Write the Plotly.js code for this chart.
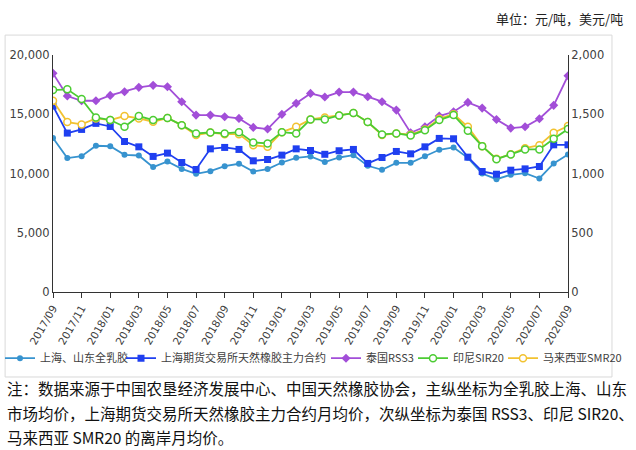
<!DOCTYPE html>
<html><head><meta charset="utf-8">
<script src="https://cdn.plot.ly/plotly-3.0.1.min.js"></script>
<style>html,body{margin:0;padding:0;background:#fff;}#chart{width:636px;height:450px;}</style>
</head><body><div id="chart"></div>
<script>
const months = ["2017/09","2017/10","2017/11","2017/12","2018/01","2018/02","2018/03","2018/04","2018/05","2018/06","2018/07","2018/08","2018/09","2018/10","2018/11","2018/12","2019/01","2019/02","2019/03","2019/04","2019/05","2019/06","2019/07","2019/08","2019/09","2019/10","2019/11","2019/12","2020/01","2020/02","2020/03","2020/04","2020/05","2020/06","2020/07","2020/08","2020/09"];
const tickLabels = months.filter((m, i) => i % 2 === 0);
const shandongLatex = [13000,11300,11460,12340,12300,11580,11520,10540,11010,10390,9970,10200,10620,10820,10170,10370,10930,11320,11440,10960,11350,11550,10650,10310,10900,10900,11460,12000,12200,11320,10000,9520,9890,10030,9580,10850,11610];
const shfeMain = [15690,13410,13720,14230,13970,12700,12250,11440,11720,10930,10340,12080,12200,12030,11070,11180,11550,12080,11940,11620,11920,12030,10850,11350,11860,11660,12250,12960,12930,11380,10170,9940,10280,10390,10590,12420,12420];
const thaiRSS3 = [1845,1654,1614,1614,1659,1690,1727,1744,1732,1606,1493,1493,1479,1465,1389,1375,1499,1592,1676,1646,1687,1687,1648,1606,1535,1344,1394,1485,1521,1600,1552,1456,1383,1394,1462,1575,1825];
const indoSIR20 = [1704,1710,1628,1473,1451,1394,1485,1451,1468,1408,1338,1346,1338,1349,1262,1254,1349,1338,1456,1456,1490,1510,1434,1330,1338,1321,1366,1451,1493,1361,1231,1121,1161,1203,1203,1293,1375];
const malaySMR20 = [1614,1434,1414,1465,1451,1485,1465,1437,1468,1408,1324,1346,1332,1332,1239,1225,1349,1394,1456,1473,1490,1510,1434,1324,1338,1327,1372,1462,1501,1394,1231,1124,1163,1214,1239,1344,1400];
const names = ["上海、山东全乳胶","上海期货交易所天然橡胶主力合约","泰国RSS3","印尼SIR20","马来西亚SMR20"];

const cjk = '"Noto Sans CJK SC", "Noto Sans", sans-serif';
function tr(y, name, color, symbol, size, axis, open, leg) {
  return {x: months, y: y, name: name, type: 'scatter', mode: 'lines+markers', yaxis: axis, legend: leg,
    line: {color: color, width: 1.8},
    marker: {color: open ? '#ffffff' : color, symbol: symbol, size: size, line: {color: color, width: open ? 1.5 : 0}}};
}
const data = [
  tr(shandongLatex, names[0], '#3793cf', 'circle', 6, 'y', false, 'legend'),
  tr(shfeMain, names[1], '#1f3ff0', 'square', 7, 'y', false, 'legend2'),
  tr(thaiRSS3, names[2], '#a24ed8', 'diamond', 7, 'y2', false, 'legend3'),
  tr(malaySMR20, names[4], '#f2c230', 'circle', 7, 'y2', true, 'legend5'),
  tr(indoSIR20, names[3], '#4ccc33', 'circle', 7, 'y2', true, 'legend4')
];
function leg(xpx) {
  return {orientation: 'h', xref: 'container', x: xpx / 636, xanchor: 'left', yref: 'container', y: 0.204, yanchor: 'middle',
    bgcolor: 'rgba(0,0,0,0)', font: {family: cjk, size: 11, color: '#404040'}, itemwidth: 30};
}

const layout = {
  width: 636, height: 450,
  margin: {l: 53, r: 68, t: 55, b: 158},
  paper_bgcolor: '#ffffff', plot_bgcolor: '#ffffff',
  showlegend: true,
  legend: leg(-7), legend2: leg(121), legend3: leg(326), legend4: leg(413), legend5: leg(503),
  xaxis: {type: 'category', range: [0, 36], tickmode: 'array', tickvals: tickLabels, ticktext: tickLabels,
    tickangle: -60, ticks: 'outside', ticklen: 5, tickcolor: '#333', showline: true, linecolor: '#333', linewidth: 1,
    showgrid: false, zeroline: false, tickfont: {family: '"DejaVu Sans", sans-serif', size: 10.5, color: '#404040'}},
  yaxis: {range: [0, 20000], dtick: 5000, tickformat: ',d', showline: true, linecolor: '#333', linewidth: 1,
    showgrid: false, zeroline: false, ticks: '', tickfont: {family: '"DejaVu Sans", sans-serif', size: 11.5, color: '#404040'}},
  yaxis2: {range: [0, 2000], dtick: 500, tickformat: ',d', overlaying: 'y', side: 'right', showline: true, linecolor: '#333', linewidth: 1,
    showgrid: false, zeroline: false, ticks: '', tickfont: {family: '"DejaVu Sans", sans-serif', size: 11.5, color: '#404040'}},
  shapes: [{type: 'rect', xref: 'paper', yref: 'paper', x0: -0.093, x1: 1.0854, y0: -0.3586, y1: 1.084,
    line: {color: '#d9d9d9', width: 1}, fillcolor: 'rgba(0,0,0,0)', layer: 'below'}],
  annotations: [
    {text: '单位：元/吨，美元/吨', xref: 'paper', yref: 'paper', x: 1.11, y: 1.156, xanchor: 'right', yanchor: 'middle', showarrow: false,
      font: {family: cjk, size: 13, color: '#222'}},
    {text: '注：数据来源于中国农垦经济发展中心、中国天然橡胶协会，主纵坐标为全乳胶上海、山东', xref: 'paper', yref: 'paper', x: -0.093, y: -0.405, xanchor: 'left', yanchor: 'middle', showarrow: false,
      font: {family: cjk, size: 15.5, color: '#111'}},
    {text: '市场均价，上海期货交易所天然橡胶主力合约月均价，次纵坐标为泰国 RSS3、印尼 SIR20、', xref: 'paper', yref: 'paper', x: -0.093, y: -0.51, xanchor: 'left', yanchor: 'middle', showarrow: false,
      font: {family: cjk, size: 15.5, color: '#111'}},
    {text: '马来西亚 SMR20 的离岸月均价。', xref: 'paper', yref: 'paper', x: -0.093, y: -0.612, xanchor: 'left', yanchor: 'middle', showarrow: false,
      font: {family: cjk, size: 15.5, color: '#111'}}
  ]
};
Plotly.newPlot('chart', data, layout, {displayModeBar: false, staticPlot: true});
</script>
</body></html>
